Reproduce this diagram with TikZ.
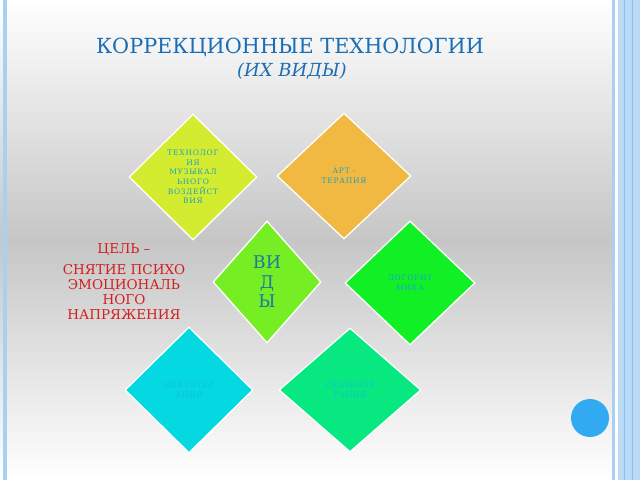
\documentclass[tikz,border=0pt]{standalone}
\usepackage{fontspec}
\setmainfont{DejaVu Serif}
\newfontfamily\spc[LetterSpace=10]{DejaVu Serif}
\usetikzlibrary{shapes.geometric}
\definecolor{titleblue}{RGB}{28,110,180}
\definecolor{bgmid}{RGB}{198,198,198}
\definecolor{lineblue}{RGB}{168,208,244}
\definecolor{bandblue}{RGB}{186,218,248}
\definecolor{bandline}{RGB}{140,192,240}
\definecolor{dotblue}{RGB}{50,170,242}
\definecolor{goalred}{RGB}{212,30,30}
\definecolor{cYG}{RGB}{212,236,48}
\definecolor{cOR}{RGB}{242,185,66}
\definecolor{cVID}{RGB}{118,238,36}
\definecolor{cLOG}{RGB}{16,240,36}
\definecolor{cCYAN}{RGB}{4,216,224}
\definecolor{cMINT}{RGB}{8,232,128}
\definecolor{vidtext}{RGB}{30,120,160}
\definecolor{smtext}{RGB}{30,160,190}
\definecolor{smtextB}{RGB}{20,190,220}
\definecolor{smtextC}{RGB}{25,165,205}
\begin{document}
\begin{tikzpicture}[x=1pt,y=-1pt,
  dia/.style={diamond, draw=white, line width=1.3pt, inner sep=0pt, align=center},
  small/.style={font=\spc\fontsize{7.5}{9.6}\selectfont, text=smtext}]
\useasboundingbox (0,0) rectangle (640,480);
\shade[top color=white, bottom color=white, middle color=bgmid] (0,0) rectangle (640,480);
% borders
\fill[lineblue] (3,0) rectangle (7,480);
\fill[lineblue] (612,0) rectangle (614.5,480);
\fill[white] (614.5,0) rectangle (618,480);
\fill[bandblue] (618,0) rectangle (640,480);
\draw[bandline, line width=0.8pt] (624,0) -- (624,480);
\draw[bandline, line width=0.8pt] (632,0) -- (632,480);
\node[circle, fill=dotblue, minimum size=38pt, inner sep=0pt] (dot) at (590,418) {};
% titles
\node[font=\fontsize{20.8}{24}\selectfont, text=titleblue] (title) at (290,47) {КОРРЕКЦИОННЫЕ ТЕХНОЛОГИИ};
\node[font=\itshape\fontsize{18}{20}\selectfont, text=titleblue] (subtitle) at (292,71) {(ИХ ВИДЫ)};
% goal
\node[font=\fontsize{13.5}{15}\selectfont, text=goalred, align=center] (goal) at (124,282)
  {ЦЕЛЬ –\\[6pt]СНЯТИЕ ПСИХО\\ЭМОЦИОНАЛЬ\\НОГО\\НАПРЯЖЕНИЯ};
% diamonds
\node[dia, fill=cYG, minimum width=128pt, minimum height=126pt, small] (music) at (193,177)
  {ТЕХНОЛОГ\\ИЯ\\МУЗЫКАЛ\\ЬНОГО\\ВОЗДЕЙСТ\\ВИЯ};
\node[dia, fill=cOR, minimum width=134pt, minimum height=126pt, small] (art) at (344,176)
  {АРТ -\\ТЕРАПИЯ};
\node[dia, fill=cVID, minimum width=108pt, minimum height=122pt,
  font=\fontsize{17.5}{19.5}\selectfont, text=vidtext] (vid) at (267,282)
  {ВИ\\Д\\Ы};
\node[dia, fill=cLOG, minimum width=130pt, minimum height=124pt, small, text=smtextC] (log) at (410,283)
  {ЛОГОРИТ\\МИКА};
\node[dia, fill=cCYAN, minimum width=128pt, minimum height=126pt, small, text=smtextB] (color) at (189,390)
  {ЦВЕТОТЕР\\АПИЯ};
\node[dia, fill=cMINT, minimum width=142pt, minimum height=124pt, small, text=smtextB] (tale) at (350,390)
  {СКАЗКОТЕ\\РАПИЯ};
\end{tikzpicture}
\end{document}
